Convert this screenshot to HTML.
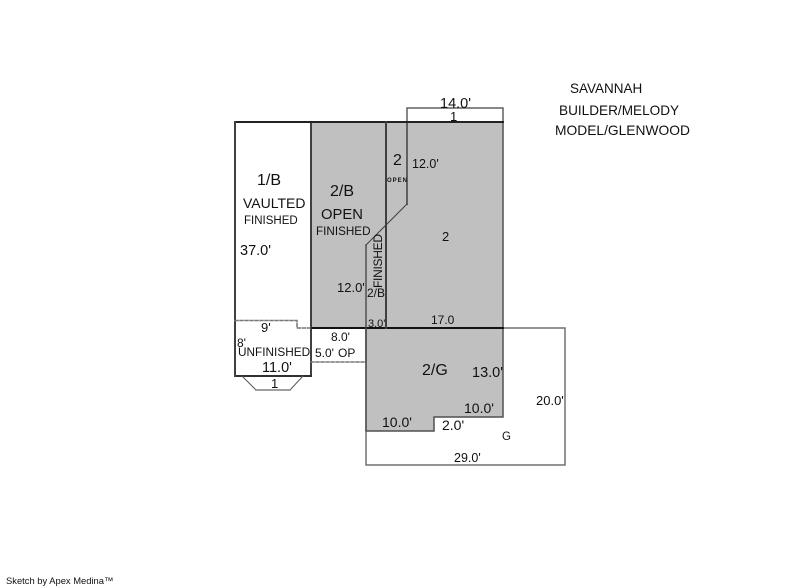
<!DOCTYPE html>
<html><head><meta charset="utf-8"><style>
html,body{margin:0;padding:0;background:#fff}
svg{display:block}
text{font-family:"Liberation Sans",sans-serif;fill:#111}
</style></head><body>
<svg width="800" height="587" viewBox="0 0 800 587" xmlns="http://www.w3.org/2000/svg">
<rect width="800" height="587" fill="#fff"/>
<polygon points="311,122 503,122 503,417 434,417 434,431 366,431 366,328 311,328" fill="#c0c0c0"/>
<g fill="none" stroke-linecap="square">
<rect x="366" y="328" width="199" height="137" stroke="#707070" stroke-width="1.5"/>
<path d="M407,122V108H503V122" stroke="#606060" stroke-width="1.5"/>
<path d="M503,122V417H434V431H366V245" stroke="#505050" stroke-width="1.5"/>
<path d="M407,122V204" stroke="#606060" stroke-width="2"/>
<path d="M407,204L366,245" stroke="#404040" stroke-width="1"/>
<path d="M311,122V376" stroke="#404040" stroke-width="2"/>
<path d="M235,376H311" stroke="#303030" stroke-width="2"/>
<path d="M311,328H503" stroke="#111" stroke-width="2"/>
<path d="M235,122H503" stroke="#222" stroke-width="2"/>
<path d="M235,122V376" stroke="#404040" stroke-width="2" stroke-dasharray="3 1"/>
<path d="M386,122V328" stroke="#404040" stroke-width="2" stroke-dasharray="3 1"/>
<path d="M235,320.500H297V328H311" stroke="#777" stroke-width="1.500" stroke-dasharray="3 2"/>
<path d="M311,362H366" stroke="#777" stroke-width="1.500" stroke-dasharray="3 2"/>
<path d="M366,328V362" stroke="#505050" stroke-width="1.500"/>
<path d="M242,376L256,390" stroke="#555" stroke-width="1"/>
<path d="M303,376L290,390" stroke="#555" stroke-width="1"/>
<path d="M256,390H290" stroke="#808080" stroke-width="1.500"/>
</g>
<g font-size="12">
<text x="570" y="93" font-size="13.5">SAVANNAH</text>
<text x="559" y="115" font-size="13.6">BUILDER/MELODY</text>
<text x="555" y="135" font-size="13.8">MODEL/GLENWOOD</text>
<text x="440" y="108" font-size="14.5">14.0'</text>
<text x="450" y="121" font-size="13">1</text>
<text x="393" y="165" font-size="16">2</text>
<text x="412" y="168" font-size="12.500">12.0'</text>
<text x="442" y="241" font-size="13">2</text>
<text x="257" y="185" font-size="16">1/B</text>
<text x="243" y="208" font-size="14">VAULTED</text>
<text x="244" y="224" font-size="11.500">FINISHED</text>
<text x="330" y="196" font-size="16">2/B</text>
<text x="321" y="219" font-size="14.800">OPEN</text>
<text x="316" y="235" font-size="11.700">FINISHED</text>
<text x="240" y="255" font-size="14.500">37.0'</text>
<text x="337" y="292" font-size="13">12.0'</text>
<text x="367" y="297">2/B</text>
<text x="261" y="332" font-size="13">9'</text>
<text x="237" y="347">8'</text>
<text x="238" y="356" font-size="11.800">UNFINISHED</text>
<text x="262" y="372" font-size="14.500">11.0'</text>
<text x="271" y="388" font-size="13">1</text>
<text x="331" y="341">8.0'</text>
<text x="315" y="357">5.0'</text>
<text x="338" y="357">OP</text>
<text x="368" y="327" font-size="11">3.0'</text>
<text x="431" y="324">17.0</text>
<text x="422" y="375" font-size="16">2/G</text>
<text x="472" y="377" font-size="14.500">13.0'</text>
<text x="464" y="413" font-size="14">10.0'</text>
<text x="382" y="427" font-size="14">10.0'</text>
<text x="442" y="430" font-size="14">2.0'</text>
<text x="536" y="405" font-size="13">20.0'</text>
<text x="502" y="440" font-size="11.500">G</text>
<text x="454" y="462" font-size="12.500">29.0'</text>
<text x="387" y="182" font-size="6" font-weight="bold" letter-spacing="1">OPEN</text>
<text transform="translate(382,288) rotate(-90)" font-size="12" x="0" y="0" textLength="54">FINISHED</text>
<text x="6" y="584" font-size="9.400">Sketch by Apex Medina™</text>
</g>
</svg>
</body></html>
